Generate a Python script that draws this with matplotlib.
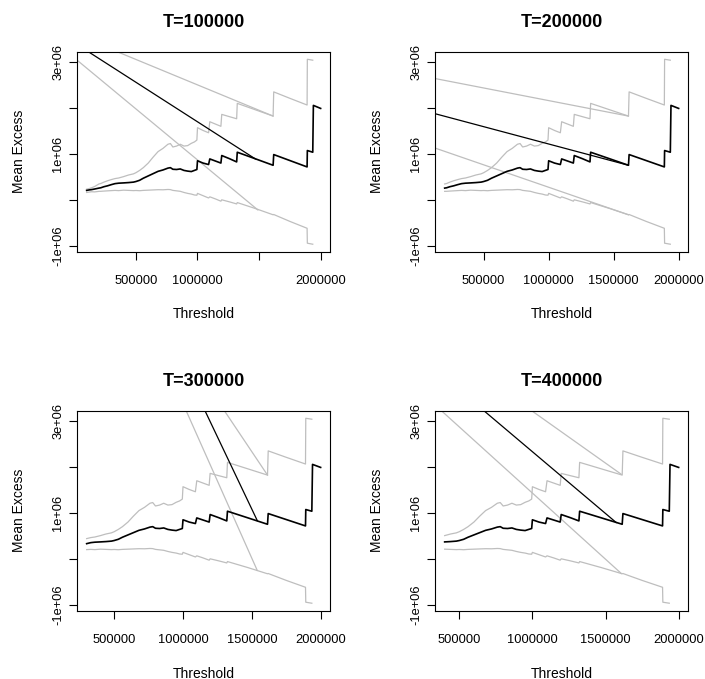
import numpy as np
import matplotlib

matplotlib.use("Agg")
import matplotlib.pyplot as plt

plt.rcParams["font.family"] = ["Liberation Sans", "DejaVu Sans"]

# mean excess curve shared by all panels, with its upper / lower band
thresh = [100000, 120000, 140000, 165000, 200000, 215000, 240000, 270000,
          300000, 330000, 360000, 400000, 440000, 480000, 500000, 530000,
          560000, 600000, 640000, 680000, 720000, 760000, 780000, 800000,
          830000, 860000, 890000, 920000, 950000, 975000, 995000, 1000000,
          1045000, 1090000, 1100000, 1145000, 1190000, 1197000, 1260000,
          1318000, 1323000, 1470000, 1614000, 1619000, 1750000, 1890000,
          1892000, 1936000, 1941000, 2000000]
mean_excess = [0.205, 0.215, 0.222, 0.235, 0.255, 0.262, 0.285, 0.305,
               0.330, 0.352, 0.362, 0.368, 0.375, 0.385, 0.398, 0.425,
               0.470, 0.520, 0.570, 0.620, 0.650, 0.690, 0.700, 0.665,
               0.660, 0.672, 0.640, 0.625, 0.615, 0.640, 0.660, 0.850,
               0.800, 0.768, 0.890, 0.845, 0.800, 0.964, 0.895,
               0.825, 1.036, 0.893, 0.752, 0.985, 0.855, 0.716,
               1.073, 1.036, 2.056, 1.990]
upper_ci = [0.232, 0.245, 0.262, 0.290, 0.345, 0.355, 0.385, 0.415,
            0.440, 0.462, 0.475, 0.505, 0.540, 0.565, 0.590, 0.640,
            0.700, 0.800, 0.930, 1.050, 1.120, 1.210, 1.225, 1.150,
            1.170, 1.210, 1.170, 1.180, 1.230, 1.260, 1.300, 1.570,
            1.510, 1.460, 1.700, 1.650, 1.600, 1.860, 1.810,
            1.765, 2.100, 1.960, 1.823, 2.350, 2.210, 2.064,
            3.060, 3.040, np.nan, np.nan]
lower_ci = [0.160, 0.168, 0.175, 0.172, 0.184, 0.185, 0.190, 0.195,
            0.200, 0.205, 0.200, 0.210, 0.205, 0.200, 0.203, 0.198,
            0.205, 0.210, 0.215, 0.220, 0.218, 0.225, 0.222, 0.205,
            0.195, 0.185, 0.160, 0.140, 0.125, 0.105, 0.100, 0.140,
            0.090, 0.040, 0.065, 0.020, -0.030, 0.000, -0.045,
            -0.090, -0.060, -0.190, -0.326, -0.320, -0.470, -0.620,
            -0.945, -0.967, np.nan, np.nan]

T_values = [100000, 200000, 300000, 400000]

# straight segments per panel: [x far, y far, x end, y end]
black_seg = [[0, 3.42e6, 1470000, 0.89e6],
             [0, 1.97e6, 1614000, 0.752e6],
             [1116000, 3.5e6, 1540000, 0.83e6],
             [566000, 3.5e6, 1573000, 0.79e6]]
upper_seg = [[0, 3.61e6, 1614000, 1.823e6],
             [0, 2.71e6, 1614000, 1.823e6],
             [1239000, 3.5e6, 1614000, 1.823e6],
             [873000, 3.5e6, 1608000, 1.84e6]]
lower_seg = [[0, 3.09e6, 1490000, -0.22e6],
             [0, 1.25e6, 1614000, -0.326e6],
             [982000, 3.5e6, 1539000, -0.25e6],
             [282000, 3.5e6, 1608000, -0.32e6]]

x = np.array(thresh)
me = np.array(mean_excess) * 1e6
up = np.array(upper_ci) * 1e6
lo = np.array(lower_ci) * 1e6

gray = "#bebebe"
fig = plt.figure(figsize=(7.05, 6.79), dpi=100)
boxes = [[77.3, 51.7], [435.3, 51.7], [77.3, 410.7], [435.3, 410.7]]

for i, T in enumerate(T_values):
    l, t = boxes[i]
    ax = fig.add_axes([l / 705, 1 - (t + 200) / 679, 252.7 / 705, 200 / 679])
    m = x >= T
    ax.plot(x[m], up[m], color=gray, lw=0.9)
    ax.plot(x[m], lo[m], color=gray, lw=0.9)
    for seg in (upper_seg[i], lower_seg[i]):
        ax.plot([seg[0], seg[2]], [seg[1], seg[3]], color=gray, lw=0.9)
    ax.plot(x[m], me[m], color="black", lw=1.2)
    s = black_seg[i]
    ax.plot([s[0], s[2]], [s[1], s[3]], color="black", lw=0.9)

    pad = 0.04 * (2000000 - T)
    ax.set_xlim(T - pad, 2000000 + pad)
    ax.set_ylim(-1.13e6, 3.225e6)
    xt = [500000, 1000000, 1500000, 2000000]
    xl = ["500000", "1000000", "1500000", "2000000"]
    if i == 0:
        xl[2] = ""
    ax.set_xticks(xt)
    ax.set_xticklabels(xl)
    ax.set_yticks([-1e6, 0, 1e6, 2e6, 3e6])
    ax.set_yticklabels(["-1e+06", "", "1e+06", "", "3e+06"],
                       rotation=90, va="center")
    ax.tick_params(direction="out", length=5.5, width=0.8, labelsize=9.3,
                   colors="black")
    ax.tick_params(axis="x", pad=11)
    ax.tick_params(axis="y", pad=4)
    for sp in ax.spines.values():
        sp.set_linewidth(0.8)
    ax.set_title(f"T={T}", fontsize=13, fontweight="bold", pad=18)
    ax.set_xlabel("Threshold", fontsize=10)
    ax.set_ylabel("Mean Excess", fontsize=10)
    ax.xaxis.label.set_verticalalignment("center")
    ax.xaxis.set_label_coords(0.5, -0.314)
    ax.yaxis.label.set_verticalalignment("center")
    ax.yaxis.set_label_coords(-0.23, 0.5)

fig.savefig("out.png", dpi=100)
